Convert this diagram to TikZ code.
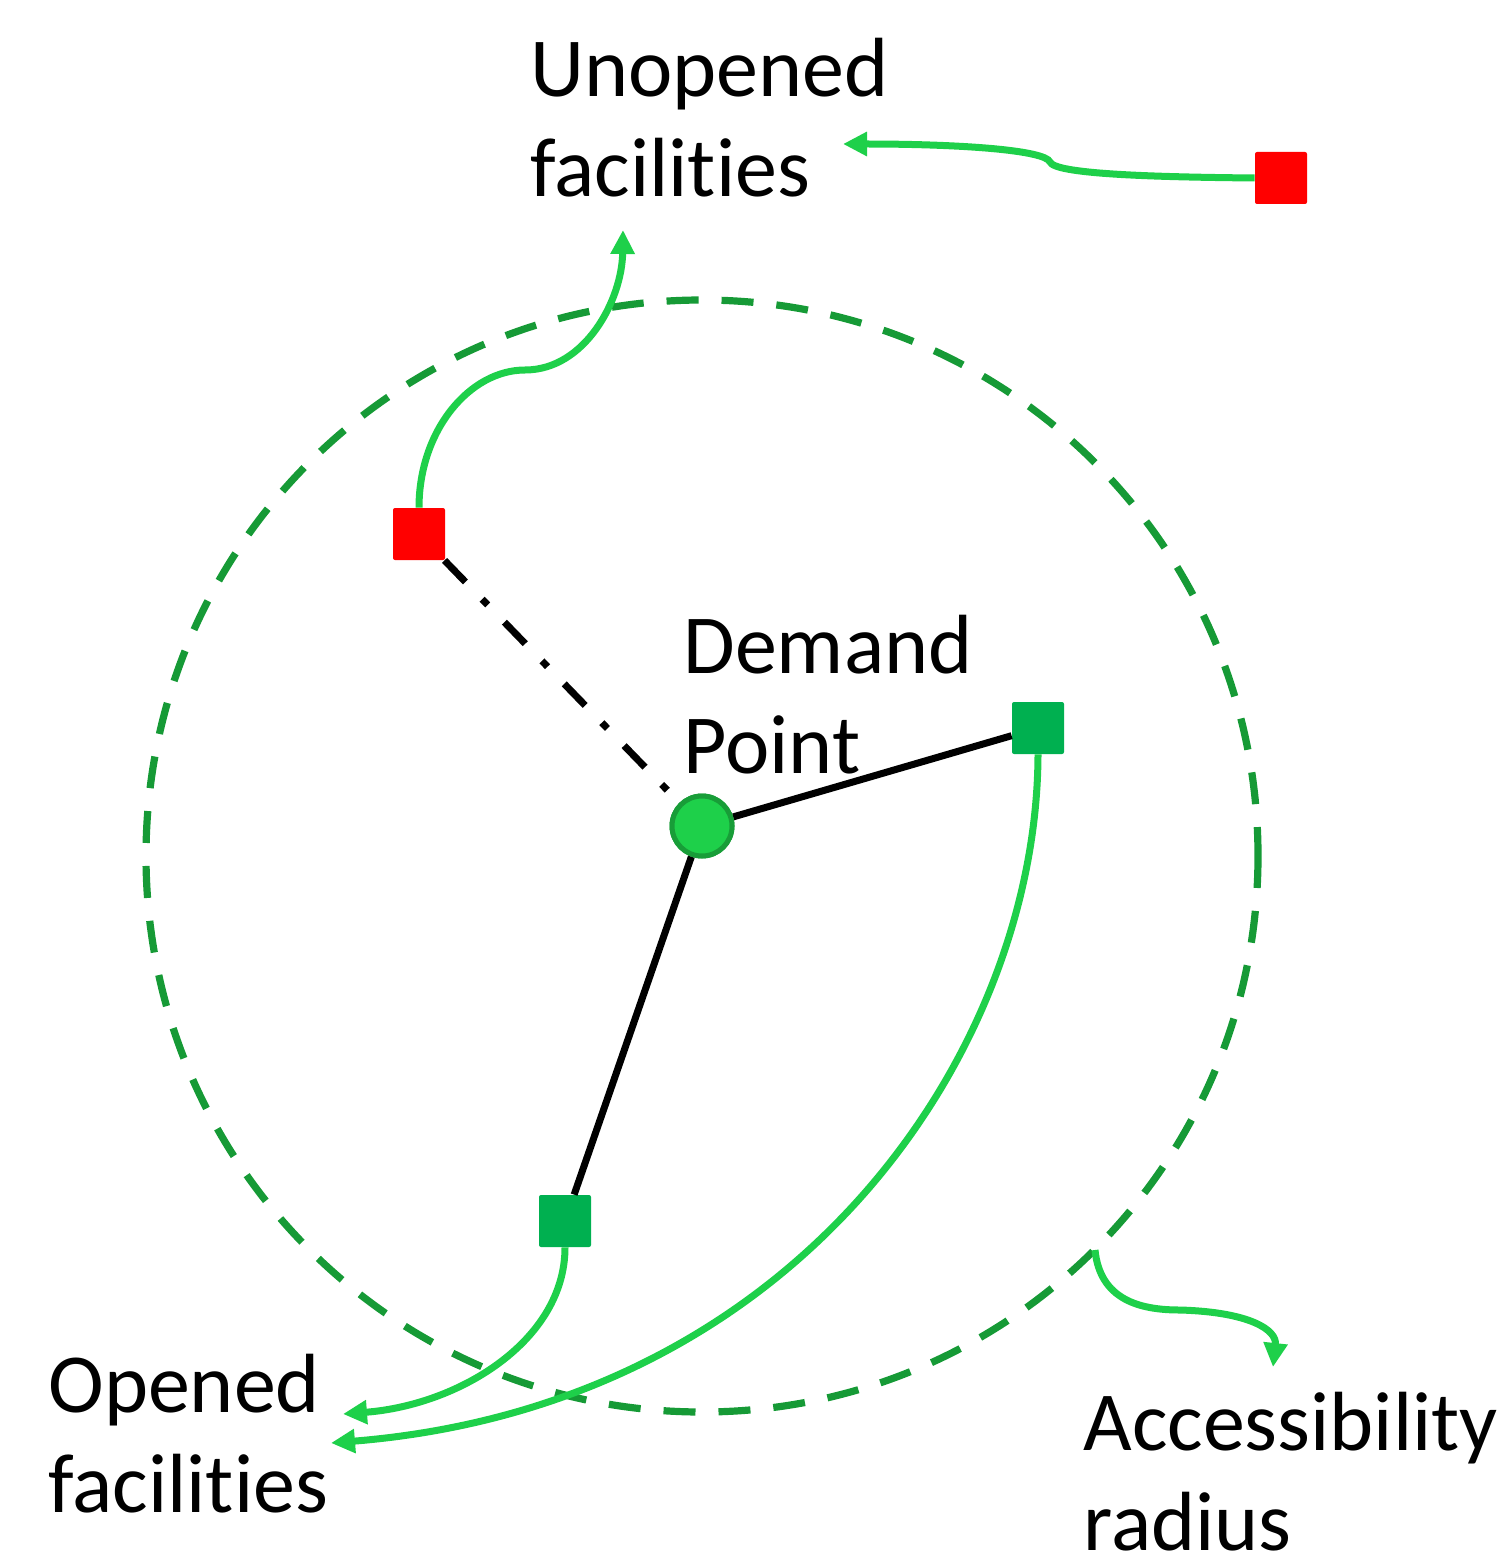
\documentclass[tikz,border=0pt]{standalone}
\usepackage{fontspec}
\setmainfont{Carlito}[Ligatures=NoCommon]
\usetikzlibrary{arrows.meta}
\definecolor{ringgreen}{RGB}{22,154,54}
\definecolor{linkgreen}{RGB}{30,208,74}
\definecolor{opengreen}{RGB}{0,176,80}
\definecolor{dotedge}{RGB}{24,157,56}
\tikzset{
  label text/.style={inner sep=0pt, anchor=base west, align=left,
    font=\fontsize{42}{50}\selectfont},
  facility/.style={rectangle, rounded corners=1pt, minimum size=26pt, inner sep=0pt, draw=none},
  opened/.style={facility, fill=opengreen},
  unopened/.style={facility, fill=red},
  demand/.style={circle, minimum size=30pt, inner sep=0pt, fill=linkgreen, draw=dotedge, line width=2.5pt},
  ring/.style={draw=ringgreen, line width=3.6pt, dash pattern=on 16pt off 11.5pt},
  link/.style={black, line width=3.5pt},
  linkdash/.style={black, line width=3.5pt, dash pattern=on 15pt off 12pt on 4pt off 12pt},
  pointer/.style={draw=linkgreen, line width=3.5pt,
    -{Triangle[length=12pt,width=11.5pt]}},
}
\begin{document}
\begin{tikzpicture}[x=0.5pt,y=-0.5pt]
\useasboundingbox (0,0) rectangle (1502,1556);

% accessibility radius
\draw[ring] (702,856) circle[radius=556];
\coordinate (rim) at (1095,1250);

% facilities and demand point
\node[unopened] (u1) at (419,534) {};
\node[unopened] (u2) at (1281,178) {};
\node[opened] (o1) at (1038,728) {};
\node[opened] (o2) at (565,1221) {};
\node[demand] (d) at (702,826) {};

% assignment links
\draw[linkdash] (u1) -- (d);
\draw[link] (d) -- (o1);
\draw[link] (d) -- (o2);
\node[demand] at (d) {};

% labels (anchored at the baseline of the last line)
\node[label text] (tu) at (530,197) {Unopened\\facilities};
\node[label text] (td) at (683,773) {Demand\\Point};
\node[label text] (to) at (48,1512) {Opened\\facilities};
\node[label text, text depth=0pt] (ta) at (1083,1550) {Accessibility\\radius};

% pointers to the labels
\draw[pointer] (u2.west) .. controls (1150,177) and (1055,174) .. (1050,162)
  .. controls (1045,150) and (960,144) .. (843,144);
\draw[pointer] (u1.north) .. controls (419,430) and (470,370) .. (525,370)
  .. controls (585,370) and (622,300) .. (623,230);
\draw[pointer] (o2.south) .. controls (565,1340) and (460,1405) .. (343,1414);
\draw[pointer] (o1.south) .. controls (1037,1050) and (800,1405) .. (331,1443);
\draw[pointer] (rim) .. controls (1100,1300) and (1140,1310) .. (1180,1310)
  .. controls (1250,1312) and (1277,1330) .. (1273,1367);
\end{tikzpicture}
\end{document}
